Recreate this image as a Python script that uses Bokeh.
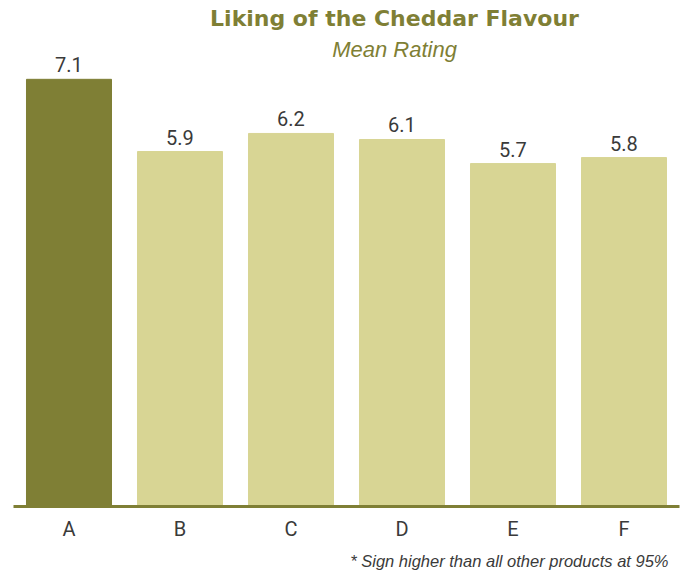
from bokeh.plotting import figure
from bokeh.models import ColumnDataSource, LabelSet, Label, Range1d, Title
from bokeh.core.properties import value
from bokeh.embed import file_html
from bokeh.resources import INLINE

products = ["A", "B", "C", "D", "E", "F"]
ratings = [7.1, 5.9, 6.2, 6.1, 5.7, 5.8]
labels = ["7.1", "5.9", "6.2", "6.1", "5.7", "5.8"]
title_text = "Liking of the Cheddar Flavour"
subtitle_text = "Mean Rating"
footnote_text = "* Sign higher than all other products at 95%"

DARK = "#7f7f35"
LIGHT = "#d8d594"
TEXT = "#3a3a3a"
COND = "Roboto"

colors = [DARK if p == "A" else LIGHT for p in products]
src = ColumnDataSource(dict(x=products, top=ratings, color=colors, label=labels))

p = figure(x_range=products, y_range=Range1d(0, 8.41), width=685, height=575,
           output_backend="svg", toolbar_location=None,
           min_border_left=13, min_border_right=6, min_border_top=0, min_border_bottom=67)
p.vbar(x="x", top="top", width=0.766, color="color", source=src)

p.add_layout(LabelSet(x="x", y="top", text="label", source=src, y_offset=7,
                      text_align="center", text_baseline="alphabetic",
                      text_font=value(COND), text_font_size="20px", text_color=TEXT))

p.yaxis.visible = False
p.grid.visible = False
p.outline_line_color = None
p.x_range.range_padding = 0
ax = p.xaxis[0]
ax.axis_line_color = DARK
ax.axis_line_width = 3
ax.major_tick_line_color = None
ax.minor_tick_line_color = None
ax.major_label_text_font = COND
ax.major_label_text_font_size = "20px"
ax.major_label_text_color = TEXT
ax.major_label_standoff = 4

p.add_layout(Label(x=381, y=488, x_units="screen", y_units="screen", text=title_text,
                   text_align="center", text_baseline="alphabetic",
                   text_font="DejaVu Sans", text_font_style="bold",
                   text_font_size="22px", text_color=DARK))
p.add_layout(Label(x=381, y=457, x_units="screen", y_units="screen", text=subtitle_text,
                   text_align="center", text_baseline="alphabetic",
                   text_font="Liberation Sans", text_font_style="italic",
                   text_font_size="22px", text_color=DARK))
p.add_layout(Title(text="", standoff=2, text_font_size="2px"), "below")
p.add_layout(Title(text=footnote_text, align="right", offset=11, standoff=12,
                   text_font="Liberation Sans", text_font_style="italic",
                   text_font_size="16.5px", text_color=TEXT), "below")

open("out.html", "w").write(file_html(p, INLINE))
